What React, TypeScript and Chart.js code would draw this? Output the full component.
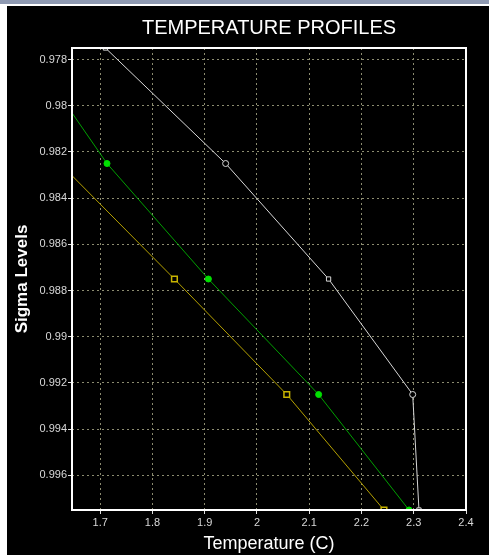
import React, { useEffect, useRef } from "react";
import { Chart, registerables } from "chart.js";

Chart.register(...registerables);

const sigmaLevels = [0.9775, 0.9825, 0.9875, 0.9925, 0.9975];
const whiteTemps = [1.71, 1.94, 2.137, 2.298, 2.31];
const greenTemps = [1.56, 1.713, 1.907, 2.118, 2.291];
const yellowTemps = [1.4, 1.623, 1.842, 2.057, 2.243];

const yTicks = [0.978, 0.98, 0.982, 0.984, 0.986, 0.988, 0.99, 0.992, 0.994, 0.996];
const yTickLabels = ["0.978", "0.98", "0.982", "0.984", "0.986", "0.988", "0.99", "0.992", "0.994", "0.996"];
const xTicks = [1.7, 1.8, 1.9, 2.0, 2.1, 2.2, 2.3, 2.4];
const xTickLabels = ["1.7", "1.8", "1.9", "2", "2.1", "2.2", "2.3", "2.4"];

const titleText = "TEMPERATURE PROFILES";
const xTitleText = "Temperature (C)";
const yTitleText = "Sigma Levels";

const W = 482;
const H = 549;

export default function App() {
  const ref = useRef<HTMLCanvasElement | null>(null);

  useEffect(() => {
    const canvas = ref.current;
    if (!canvas) return;
    const toPts = (t: number[]) => t.map((x, i) => ({ x, y: sigmaLevels[i] }));

    const framePlugin = {
      id: "frame",
      beforeDraw(chart: any) {
        const ctx = chart.ctx;
        ctx.save();
        ctx.fillStyle = "#000";
        ctx.fillRect(0, 0, chart.width, chart.height);
        ctx.restore();
      },
      afterDraw(chart: any) {
        const ctx = chart.ctx;
        const a = chart.chartArea;
        ctx.save();
        ctx.strokeStyle = "#ffffff";
        ctx.lineWidth = 2;
        ctx.strokeRect(a.left, a.top, a.right - a.left, a.bottom - a.top);
        ctx.fillStyle = "#ffffff";
        ctx.textAlign = "center";
        ctx.textBaseline = "middle";
        const cx = (a.left + a.right) / 2;
        const cy = (a.top + a.bottom) / 2;
        ctx.font = "20px 'Liberation Sans', Arial, sans-serif";
        ctx.fillText(titleText, cx, 22);
        ctx.font = "18px 'Liberation Sans', Arial, sans-serif";
        ctx.fillText(xTitleText, cx, 538);
        ctx.translate(15, cy);
        ctx.rotate(-Math.PI / 2);
        ctx.font = "bold 17px 'Liberation Sans', Arial, sans-serif";
        ctx.fillText(yTitleText, 0, 0);
        ctx.restore();
      },
    };

    const gridCommon = {
      color: "#8c8c70",
      lineWidth: 1,
      tickColor: "#e0e0e0",
      tickBorderDash: [],
      tickLength: 4,
      drawTicks: true,
    };
    const borderCommon = { display: false, dash: [2, 3] };

    const chart = new Chart(canvas, {
      type: "scatter",
      data: {
        datasets: [
          {
            data: toPts(whiteTemps),
            showLine: true,
            borderColor: "#d8d8d8",
            borderWidth: 1,
            pointStyle: ["rect", "circle", "rect", "circle", "rect"],
            pointRadius: 3,
            pointBorderColor: "#d8d8d8",
            pointBackgroundColor: "#000",
            pointBorderWidth: 1,
          },
          {
            data: toPts(greenTemps),
            showLine: true,
            borderColor: "#00a000",
            borderWidth: 1,
            pointStyle: "circle",
            pointRadius: 3,
            pointBorderColor: "#00e000",
            pointBackgroundColor: "#00e000",
            pointBorderWidth: 1,
          },
          {
            data: toPts(yellowTemps),
            showLine: true,
            borderColor: "#b4a000",
            borderWidth: 1,
            pointStyle: "rect",
            pointRadius: 4,
            pointBorderColor: "#c8b400",
            pointBackgroundColor: "#000",
            pointBorderWidth: 1.5,
          },
        ],
      },
      options: {
        responsive: false,
        animation: false,
        devicePixelRatio: 1,
        layout: { padding: { top: 42, right: 23, left: 0, bottom: 0 } },
        plugins: {
          legend: { display: false },
          title: { display: false },
          tooltip: { enabled: false },
        },
        scales: {
          x: {
            type: "linear",
            min: 1.646,
            max: 2.4,
            afterBuildTicks: (s: any) => {
              s.ticks = xTicks.map((v) => ({ value: v }));
            },
            afterFit: (s: any) => {
              s.height = 45;
            },
            ticks: {
              color: "#d8d8d8",
              font: { family: "'Liberation Sans', Arial, sans-serif", size: 11 },
              padding: 2,
              maxRotation: 0,
              autoSkip: false,
              callback: (_v: any, i: number) => xTickLabels[i],
            },
            grid: gridCommon,
            border: borderCommon,
          },
          y: {
            type: "linear",
            reverse: true,
            min: 0.9775,
            max: 0.9975,
            afterBuildTicks: (s: any) => {
              s.ticks = yTicks.map((v) => ({ value: v }));
            },
            afterFit: (s: any) => {
              s.width = 65;
            },
            ticks: {
              color: "#d8d8d8",
              font: { family: "'Liberation Sans', Arial, sans-serif", size: 11 },
              padding: 1,
              autoSkip: false,
              callback: (_v: any, i: number) => yTickLabels[i],
            },
            grid: gridCommon,
            border: borderCommon,
          },
        },
      },
      plugins: [framePlugin],
    } as any);

    return () => chart.destroy();
  }, []);

  return (
    <div
      style={{
        position: "fixed",
        left: 0,
        top: 0,
        width: 489,
        height: 555,
        background: "#ffffff",
        overflow: "hidden",
      }}
    >
      <div style={{ position: "absolute", left: 0, top: 0, width: 489, height: 4, background: "#8f9ab2" }} />
      <canvas
        ref={ref}
        width={W}
        height={H}
        style={{ position: "absolute", left: 7, top: 6, width: W, height: H, display: "block" }}
      />
    </div>
  );
}
